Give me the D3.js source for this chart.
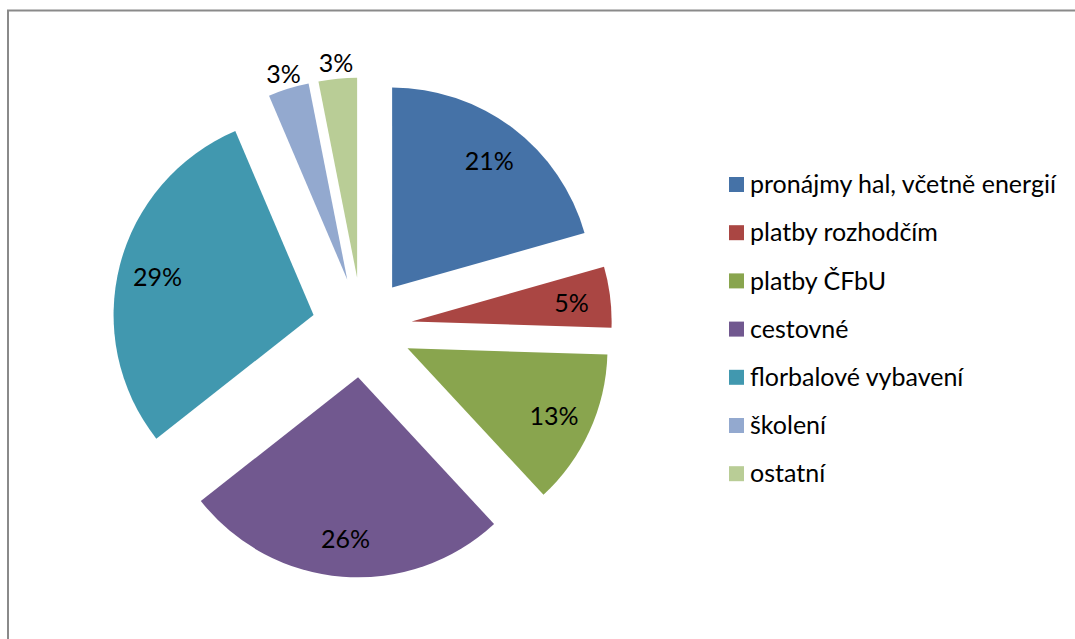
<!DOCTYPE html>
<html>
<head>
<meta charset="utf-8">
<script src="https://cdn.jsdelivr.net/npm/d3@7"></script>
<style>
  body { margin: 0; background: #fff; }
  svg { display: block; font-family: Lato, "Open Sans", sans-serif; }
</style>
</head>
<body>
<div id="chart"></div>
<script>
// data (shares of total, labels shown rounded)
let categories = ["pronájmy hal, včetně energií", "platby rozhodčím", "platby ČFbU",
                  "cestovné", "florbalové vybavení", "školení", "ostatní"];
let values = [20.6, 4.9, 12.6, 26.3, 29.2, 3.3, 3.1];
let colors = ["#4572A7", "#AA4643", "#89A54E", "#71588F", "#4198AF", "#93A9CF", "#B9CD96"];

let width = 1075, height = 639;

let svg = d3.select("#chart")
            .append("svg")
            .attr("width", width)
            .attr("height", height);

// chart area border (cropped at right/bottom)
svg.append("rect")
   .attr("x", 8)
   .attr("y", 10.5)
   .attr("width", 1200)
   .attr("height", 800)
   .attr("fill", "none")
   .attr("stroke", "#8a8a8a")
   .attr("stroke-width", 2);

let cx = 362, cy = 327.5;
let radius = 200;
let explode = 50;

let total = d3.sum(values);
let pie = d3.pie().sort(null).value(d => d);
let arcs = pie(values);
let arc = d3.arc().innerRadius(0).outerRadius(radius);

let color = d3.scaleOrdinal().domain(categories).range(colors);

function offset(d, r) {
    let mid = (d.startAngle + d.endAngle) / 2;
    return [Math.sin(mid) * r, -Math.cos(mid) * r];
}

let g = svg.append("g").attr("transform", "translate(" + cx + "," + cy + ")");

let slices = g.selectAll("g.slice")
    .data(arcs)
    .enter().append("g")
    .attr("class", "slice")
    .attr("transform", d => "translate(" + offset(d, explode) + ")");

slices.append("path")
    .attr("d", arc)
    .attr("fill", (d, i) => color(categories[i]));

// labels: inside for big slices, outside for the small ones
function labelR(d) { return (d.data / total < 0.04) ? 217 : 161; }

slices.append("text")
    .attr("x", d => offset(d, labelR(d))[0])
    .attr("y", d => offset(d, labelR(d))[1])
    .attr("text-anchor", "middle")
    .attr("dy", "0.42em")
    .attr("font-size", "25px")
    .attr("fill", "#000")
    .text(d => Math.round(d.data / total * 100) + "%");

// LEGEND
let legend = svg.append("g").attr("transform", "translate(729,184.5)");

let items = legend.selectAll("g")
    .data(categories)
    .enter().append("g")
    .attr("transform", (d, i) => "translate(0," + (i * 48.2) + ")");

items.append("rect")
    .attr("x", 0)
    .attr("y", -7.5)
    .attr("width", 15)
    .attr("height", 15)
    .attr("fill", d => color(d));

items.append("text")
    .attr("x", 21)
    .attr("dy", "0.35em")
    .attr("font-size", "25px")
    .attr("fill", "#000")
    .text(d => d);
</script>
</body>
</html>
